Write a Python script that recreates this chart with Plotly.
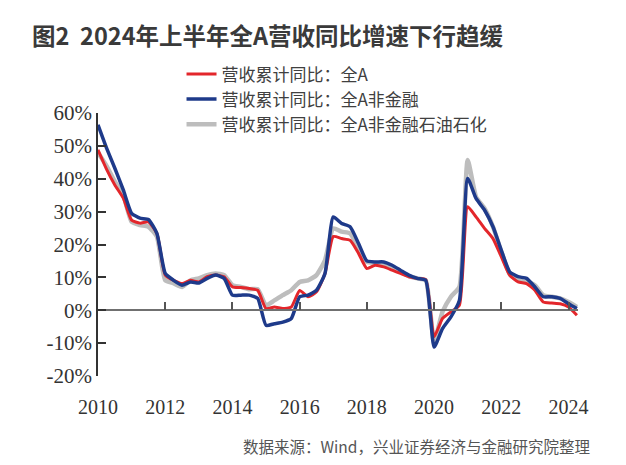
import pandas as pd
import plotly.graph_objects as go

# Quarterly cumulative YoY revenue growth (%), 2010Q1 - 2024Q2
quarters = pd.date_range("2010-03-31", periods=58, freq="QE").strftime("%Y-%m-%d").tolist()

all_a = [48.8, 43.0, 38.1, 34.1, 27.4, 26.5, 26.9, 23.4, 10.7, 9.1, 8.1, 9.1, 8.6, 10.2, 10.7, 10.2,
         7.1, 6.9, 6.6, 6.1, 0.5, 1.0, 0.5, 1.0, 6.0, 4.1, 5.6, 11.2, 22.4, 21.8, 21.3, 17.3,
         12.7, 13.7, 13.2, 12.2, 11.2, 10.2, 9.7, 9.3, -8.1, -2.5, -0.5, 1.5, 31.5, 28.4, 24.9, 21.8,
         16.3, 10.7, 8.6, 8.1, 6.1, 2.5, 2.2, 2.0, 1.0, -1.5]
non_fin = [56.4, 49.5, 43.2, 36.6, 29.5, 28.0, 27.6, 23.4, 11.2, 9.1, 7.6, 8.6, 8.3, 9.7, 10.7, 9.7,
           4.6, 4.6, 4.6, 3.6, -4.6, -4.1, -3.6, -2.5, 4.1, 4.6, 6.1, 11.2, 28.4, 26.4, 25.4, 20.3,
           15.0, 14.7, 14.7, 13.7, 12.2, 10.7, 9.7, 9.1, -11.2, -5.6, -2.0, 3.0, 40.1, 34.0, 30.5, 25.4,
           18.3, 11.7, 10.2, 9.7, 7.1, 4.1, 4.1, 3.6, 2.0, 0.5]
non_fin_pet = [47.9, 44.0, 39.1, 35.0, 26.9, 25.9, 25.4, 22.4, 9.1, 8.2, 7.1, 9.1, 9.7, 10.7, 11.2, 10.7,
               7.6, 7.1, 6.4, 6.4, 1.5, 3.0, 4.6, 6.1, 8.6, 9.1, 10.7, 15.2, 24.9, 23.9, 23.4, 18.8,
               14.7, 14.4, 14.0, 13.2, 11.7, 10.4, 9.7, 9.1, -9.7, -0.5, 4.1, 7.1, 45.7, 34.5, 31.0, 25.4,
               17.8, 11.0, 9.1, 8.6, 7.6, 4.6, 4.1, 3.6, 2.5, 1.0]

tick_years = ["2010", "2012", "2014", "2016", "2018", "2020", "2022", "2024"]
tick_vals = [y + "-03-31" for y in tick_years]
y_ticks = [-20, -10, 0, 10, 20, 30, 40, 50, 60]
y_text = [f"{v}%" for v in y_ticks]

names = ["营收累计同比：全A", "营收累计同比：全A非金融", "营收累计同比：全A非金融石油石化"]
colors = ["#E3262B", "#1E3A8A", "#BDBDBD"]

fig = go.Figure()
fig.add_trace(go.Scatter(x=quarters, y=non_fin_pet, name=names[2], mode="lines",
                         line=dict(color=colors[2], width=4.5, shape="spline", smoothing=0.5),
                         legendrank=3, cliponaxis=False))
fig.add_trace(go.Scatter(x=quarters, y=all_a, name=names[0], mode="lines",
                         line=dict(color=colors[0], width=3, shape="spline", smoothing=0.5),
                         legendrank=1, cliponaxis=False))
fig.add_trace(go.Scatter(x=quarters, y=non_fin, name=names[1], mode="lines",
                         line=dict(color=colors[1], width=3.5, shape="spline", smoothing=0.5),
                         legendrank=2, cliponaxis=False))
# helper trace to attach the zero-line axis
fig.add_trace(go.Scatter(x=[quarters[0]], y=[None], xaxis="x2", showlegend=False,
                         hoverinfo="skip", mode="lines"))

x_range = ["2010-03-31", "2024-07-12"]
fig.update_layout(
    width=626, height=465,
    margin=dict(l=90, r=56, t=105, b=97),
    paper_bgcolor="white", plot_bgcolor="white",
    font=dict(family="Liberation Serif, Times New Roman, serif", color="#333333"),
    showlegend=True,
    legend=dict(x=0.174, y=1.215, xanchor="left", yanchor="top",
                font=dict(family="Noto Sans CJK SC", size=17, color="#404040"),
                bgcolor="rgba(0,0,0,0)", itemwidth=30, tracegroupgap=0),
    xaxis=dict(range=x_range, tickvals=tick_vals, ticktext=tick_years,
               showline=False, showgrid=False, zeroline=False,
               ticks="outside", ticklen=13, tickcolor="rgba(0,0,0,0)",
               tickfont=dict(family="Liberation Serif", size=20, color="#333333")),
    xaxis2=dict(range=x_range, overlaying="x", anchor="free", position=0.25,
                tickvals=tick_vals, showticklabels=False, showgrid=False, zeroline=False,
                showline=True, linecolor="#707070", linewidth=1.5,
                ticks="inside", ticklen=8, tickwidth=1.5, tickcolor="#555555"),
    yaxis=dict(range=[-20, 60], tickvals=y_ticks, ticktext=y_text,
               showline=True, linecolor="#333333", linewidth=1.8,
               ticks="inside", ticklen=8, tickwidth=1.5, tickcolor="#333333",
               showgrid=False, zeroline=False,
               tickfont=dict(family="Liberation Serif", size=21, color="#333333")),
    annotations=[
        dict(text="<b>图2  2024年上半年全A营收同比增速下行趋缓</b>", xref="paper", yref="paper",
             x=-0.1417, y=1.2966, xanchor="left", yanchor="middle", showarrow=False,
             font=dict(family="Noto Sans CJK SC", size=23.5, color="#3A3A3A")),
        dict(text="数据来源：Wind，兴业证券经济与金融研究院整理", xref="paper", yref="paper",
             x=1.029, y=-0.266, xanchor="right", yanchor="middle", showarrow=False,
             font=dict(family="Noto Sans CJK SC", size=15.5, color="#555555")),
    ],
)

fig.write_html("out.html")
